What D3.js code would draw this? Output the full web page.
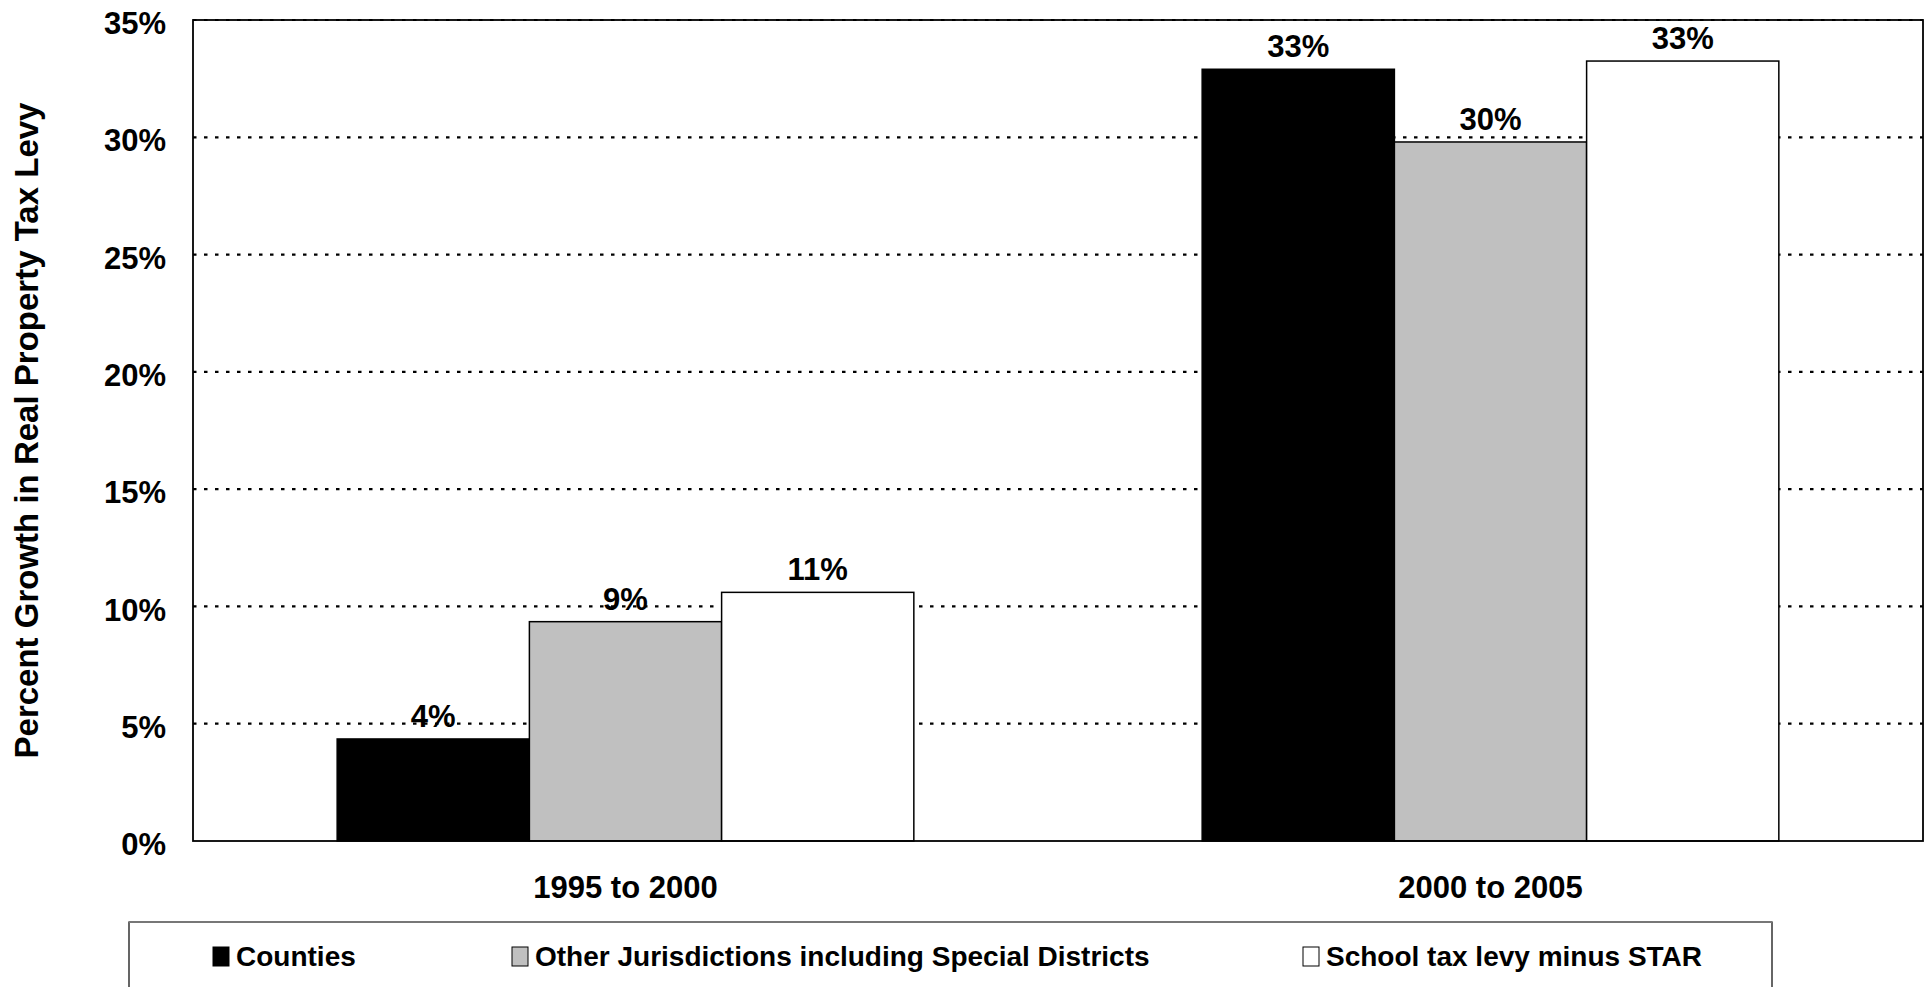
<!DOCTYPE html>
<html>
<head>
<meta charset="utf-8">
<script src="https://cdn.jsdelivr.net/npm/d3@7"></script>
<style>
  body { margin: 0; background: #fff; }
  text { font-family: "Liberation Sans", Arial, sans-serif; font-weight: bold; fill: #000; }
</style>
</head>
<body>
<div id="chart"></div>
<script>
const periods = ["1995 to 2000", "2000 to 2005"]
const seriesNames = ["Counties", "Other Jurisdictions including Special Districts", "School tax levy minus STAR"]
const counties = [4.35, 32.9]
const otherJurisdictions = [9.35, 29.8]
const schoolLevy = [10.6, 33.25]
const valueLabels = [["4%", "33%"], ["9%", "30%"], ["11%", "33%"]]
const yTicks = [0, 5, 10, 15, 20, 25, 30, 35]
const seriesColors = ["#000000", "#c0c0c0", "#ffffff"]

const allSeries = [counties, otherJurisdictions, schoolLevy]

const width = 1931, height = 987
const margin = { top: 20, right: 8, bottom: 146, left: 193 }

const svg = d3.select('#chart').append('svg')
  .attr('width', width)
  .attr('height', height)

const x0 = d3.scaleBand()
  .domain(periods)
  .range([margin.left, width - margin.right])
  .paddingInner(1 / 3)
  .paddingOuter(1 / 6)

const x1 = d3.scaleBand()
  .domain(d3.range(seriesNames.length))
  .range([0, x0.bandwidth()])

const y = d3.scaleLinear()
  .domain([0, 35])
  .range([height - margin.bottom, margin.top])

// dotted gridlines
svg.append('g')
  .selectAll('line')
  .data(yTicks.filter(d => d > 0))
  .enter()
  .append('line')
  .attr('x1', margin.left)
  .attr('x2', width - margin.right)
  .attr('y1', d => y(d))
  .attr('y2', d => y(d))
  .attr('stroke', '#000')
  .attr('stroke-width', 2.2)
  .attr('stroke-dasharray', '3.5,7.5')

// bars
const bars = []
periods.forEach((p, i) => {
  allSeries.forEach((s, j) => {
    bars.push({ period: p, series: j, value: s[i], label: valueLabels[j][i] })
  })
})

svg.append('g')
  .selectAll('rect')
  .data(bars)
  .enter()
  .append('rect')
  .attr('x', d => x0(d.period) + x1(d.series))
  .attr('y', d => y(d.value))
  .attr('width', x1.bandwidth())
  .attr('height', d => y(0) - y(d.value))
  .attr('fill', d => seriesColors[d.series])
  .attr('stroke', '#000')
  .attr('stroke-width', 1.5)

svg.append('g')
  .selectAll('text')
  .data(bars)
  .enter()
  .append('text')
  .attr('x', d => x0(d.period) + x1(d.series) + x1.bandwidth() / 2)
  .attr('y', d => y(d.value) - 12)
  .attr('text-anchor', 'middle')
  .style('font-size', '31px')
  .text(d => d.label)

// plot frame
svg.append('rect')
  .attr('x', margin.left)
  .attr('y', margin.top)
  .attr('width', width - margin.right - margin.left)
  .attr('height', height - margin.bottom - margin.top)
  .attr('fill', 'none')
  .attr('stroke', '#000')
  .attr('stroke-width', 1.8)

// y axis labels
const yAxis = d3.axisLeft(y)
  .tickValues(yTicks)
  .tickFormat(d => d + '%')
  .tickSize(0)
  .tickPadding(27)

svg.append('g')
  .attr('transform', `translate(${margin.left},0)`)
  .call(yAxis)
  .call(g => g.select('.domain').remove())
  .selectAll('text')
  .style('font-size', '31px')
  .style('font-family', '"Liberation Sans", Arial, sans-serif')
  .attr('dy', '0.44em')

// x axis labels
const xAxis = d3.axisBottom(x0)
  .tickSize(0)
  .tickPadding(35)

svg.append('g')
  .attr('transform', `translate(0,${y(0)})`)
  .call(xAxis)
  .call(g => g.select('.domain').remove())
  .selectAll('text')
  .style('font-size', '31px')
  .style('font-family', '"Liberation Sans", Arial, sans-serif')

// y title
svg.append('text')
  .attr('transform', `translate(38,${(margin.top + y(0)) / 2}) rotate(-90)`)
  .attr('text-anchor', 'middle')
  .style('font-size', '33px')
  .text('Percent Growth in Real Property Tax Levy')

// legend
const legend = svg.append('g')
legend.append('rect')
  .attr('x', 129)
  .attr('y', 922)
  .attr('width', 1643)
  .attr('height', 90)
  .attr('fill', '#fff')
  .attr('stroke', '#000')
  .attr('stroke-width', 1.2)

legend.append('line')
  .attr('x1', 129)
  .attr('x2', 1772)
  .attr('y1', 922)
  .attr('y2', 922)
  .attr('stroke', '#777')
  .attr('stroke-width', 2)

const legendX = [213, 512, 1303]
const items = legend.selectAll('g.item')
  .data(seriesNames)
  .enter()
  .append('g')
  .attr('class', 'item')
  .attr('transform', (d, i) => `translate(${legendX[i]},956)`)

items.append('rect')
  .attr('x', 0)
  .attr('y', -9)
  .attr('width', 16)
  .attr('height', 19)
  .attr('fill', (d, i) => seriesColors[i])
  .attr('stroke', '#000')
  .attr('stroke-width', 1)

items.append('text')
  .attr('x', 23)
  .attr('dy', '0.37em')
  .style('font-size', '28px')
  .text(d => d)
</script>
</body>
</html>
